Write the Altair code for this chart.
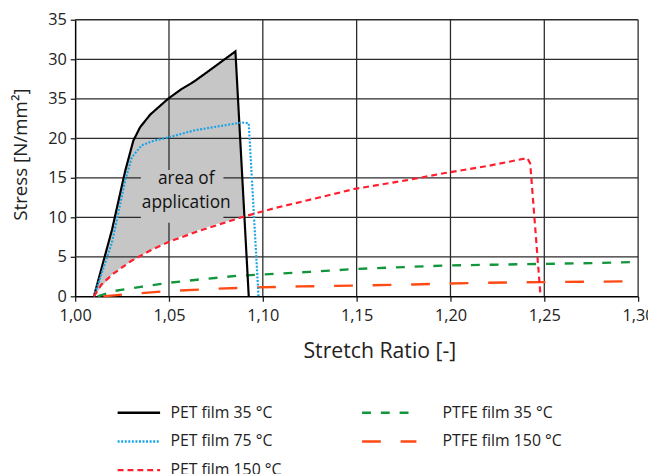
import altair as alt
import pandas as pd

# ---- data ----
pet_names = ["PET film 35 °C", "PET film 75 °C", "PET film 150 °C"]
pet_colors = ["#000000", "#1aa3e6", "#ff1e2d"]
pet_dashes = [[1, 0], [2, 1.6], [6, 4]]

ptfe_names = ["PTFE film 35 °C", "PTFE film 150 °C"]
ptfe_colors = ["#12963c", "#ff4a14"]
ptfe_dashes = [[9, 10], [19, 20]]

pet35_x = [1.010, 1.0196, 1.0267, 1.031, 1.0346, 1.040, 1.0495, 1.0565, 1.0635, 1.0745, 1.0854, 1.0925]
pet35_y = [0, 8.4, 15.9, 19.7, 21.4, 23.0, 25.0, 26.2, 27.2, 29.1, 31.0, 0]

pet75_x = [1.010, 1.0196, 1.0267, 1.0302, 1.0354, 1.042, 1.0495, 1.0635, 1.076, 1.0889, 1.0925, 1.0977]
pet75_y = [0, 6.8, 14.7, 17.6, 19.1, 19.7, 20.1, 21.0, 21.5, 22.0, 21.9, 0]

pet150_x = [1.010, 1.014, 1.020, 1.030, 1.040, 1.050, 1.065, 1.090, 1.107, 1.130, 1.149, 1.177, 1.197, 1.220, 1.241, 1.2425, 1.248]
pet150_y = [0, 1.5, 2.8, 4.5, 5.8, 6.9, 8.2, 10.1, 11.2, 12.5, 13.6, 14.7, 15.6, 16.5, 17.5, 16.8, 0]

ptfe35_x = [1.012, 1.0214, 1.035, 1.0495, 1.065, 1.0863, 1.10, 1.125, 1.149, 1.175, 1.198, 1.223, 1.248, 1.275, 1.30]
ptfe35_y = [0, 0.7, 1.2, 1.7, 2.1, 2.6, 2.76, 3.1, 3.45, 3.7, 3.9, 4.0, 4.1, 4.2, 4.35]

ptfe150_x = [1.015, 1.0267, 1.0495, 1.0758, 1.0916, 1.12, 1.153, 1.18, 1.214, 1.249, 1.275, 1.30]
ptfe150_y = [0, 0.25, 0.67, 0.96, 1.1, 1.25, 1.38, 1.5, 1.7, 1.8, 1.85, 1.9]

# "area of application" band (between PET 35 °C and PET 150 °C)
area_x = [1.010, 1.0196, 1.0267, 1.031, 1.0346, 1.040, 1.0495, 1.0565, 1.0635, 1.0745, 1.0854, 1.0902]
area_upper = [0, 8.4, 15.9, 19.7, 21.4, 23.0, 25.0, 26.2, 27.2, 29.1, 31.0, 10.1]
area_lower = [0, 2.8, 4.0, 4.5, 5.1, 5.8, 6.9, 7.6, 8.2, 9.1, 9.8, 10.1]

area_label = "area of\napplication"
label_x = [1.0592]
label_y = [14.9]
label_box_x = [1.035, 1.079]
label_box_y = [9.3, 16.0]

x_ticks = [1.00, 1.05, 1.10, 1.15, 1.20, 1.25, 1.30]
y_ticks = [0, 5, 10, 15, 20, 25, 30, 35]
y_tick_labels = ["0", "5", "10", "15", "20", "35", "30", "35"]
x_grid = [1.05, 1.10, 1.15, 1.20, 1.25, 1.30]
y_grid = [5, 10, 15, 20, 25, 30, 35]

FONT = "Open Sans"
GRAY = "#c6c6c6"

# ---- build tables ----
def long_table(items):
    rows = []
    for name, xs, ys in items:
        for i, (a, b) in enumerate(zip(xs, ys)):
            rows.append({"series": name, "x": a, "y": b, "order": i})
    return pd.DataFrame(rows)

pet_df = long_table([
    ("PET film 35 °C", pet35_x, pet35_y),
    ("PET film 75 °C", pet75_x, pet75_y),
    ("PET film 150 °C", pet150_x, pet150_y),
])
ptfe_df = long_table([
    ("PTFE film 35 °C", ptfe35_x, ptfe35_y),
    ("PTFE film 150 °C", ptfe150_x, ptfe150_y),
])
area_df = pd.DataFrame({"x": area_x, "upper": area_upper, "lower": area_lower})
vgrid_df = pd.DataFrame({"x": x_grid})
hgrid_df = pd.DataFrame({"y": y_grid})
box_df = pd.DataFrame({"x": [label_box_x[0]], "x2": [label_box_x[1]], "y": [label_box_y[0]], "y2": [label_box_y[1]]})
label_df = pd.DataFrame({"x": label_x, "y": label_y, "t": [area_label]})

xscale = alt.Scale(domain=[1.0, 1.3], nice=False, zero=False)
yscale = alt.Scale(domain=[0, 35], nice=False)

y_label_expr = "[" + ",".join("'%s'" % s for s in y_tick_labels) + "][round(datum.value/5)]"

x_axis = alt.Axis(
    values=x_ticks, grid=False, domainColor="#000", domainWidth=1.5,
    tickColor="#222", tickSize=5, tickWidth=1.3, labelPadding=7,
    labelFlush=False, labelOverlap=False,
    labelExpr="replace(format(datum.value, '.2f'), '.', ',')",
    labelFont=FONT, labelFontSize=16.5, labelColor="#222",
    title="Stretch Ratio [-]", titleFont=FONT, titleFontSize=21.5, titleFontWeight="normal",
    titleColor="#222", titleX=308, titleY=56, titleBaseline="middle", titleAlign="center",
)
y_axis = alt.Axis(
    values=y_ticks, grid=False, domainColor="#000", domainWidth=1.5,
    tickColor="#222", tickSize=5, tickWidth=1.3, labelPadding=4,
    labelFlush=False, labelOverlap=False,
    labelExpr=y_label_expr,
    labelFont=FONT, labelFontSize=16.5, labelColor="#222",
    title="Stress [N/mm²]", titleFont=FONT, titleFontSize=19, titleFontWeight="normal",
    titleColor="#222", titleX=-55, titleY=136, titleBaseline="middle", titleAlign="center", titleAngle=-90,
)

X = lambda f: alt.X(f, scale=xscale, axis=x_axis)
Y = lambda f: alt.Y(f, scale=yscale, axis=y_axis)

area = alt.Chart(area_df).mark_area(color=GRAY, opacity=1).encode(
    x=X("x:Q"), y=Y("upper:Q"), y2="lower:Q",
)
vgrid = alt.Chart(vgrid_df).mark_rule(color="#2b2b2b", strokeWidth=1.3).encode(x=X("x:Q"))
hgrid = alt.Chart(hgrid_df).mark_rule(color="#2b2b2b", strokeWidth=1.3).encode(y=Y("y:Q"))
box = alt.Chart(box_df).mark_rect(color=GRAY).encode(x=X("x:Q"), x2="x2:Q", y=Y("y:Q"), y2="y2:Q")
label = alt.Chart(label_df).mark_text(
    font=FONT, fontSize=17.5, color="#111", lineBreak="\n", lineHeight=24.5, baseline="middle", align="center"
).encode(x=X("x:Q"), y=Y("y:Q"), text="t:N")


def legend(x, y, size, offset):
    return alt.Legend(
        title=None, orient="none", legendX=x, legendY=y, direction="vertical",
        symbolType="stroke", symbolSize=size, symbolStrokeWidth=2.5,
        clipHeight=15, rowPadding=12, labelOffset=offset,
        labelFont=FONT, labelFontSize=16, labelColor="#222", padding=0,
    )


pet_lines = alt.Chart(pet_df).mark_line(strokeWidth=2.2, interpolate="linear").encode(
    x=X("x:Q"),
    y=Y("y:Q"),
    order="order:Q",
    color=alt.Color("series:N", scale=alt.Scale(domain=pet_names, range=pet_colors),
                    legend=legend(41.5, 390.5, 1849, 9)),
    strokeDash=alt.StrokeDash("series:N", scale=alt.Scale(domain=pet_names, range=pet_dashes),
                              legend=legend(41.5, 390.5, 1849, 9)),
)
ptfe_lines = alt.Chart(ptfe_df).mark_line(strokeWidth=2.4, interpolate="linear").encode(
    x=X("x:Q"),
    y=Y("y:Q"),
    order="order:Q",
    color=alt.Color("series:N", scale=alt.Scale(domain=ptfe_names, range=ptfe_colors),
                    legend=legend(289, 390.5, 3025, 25)),
    strokeDash=alt.StrokeDash("series:N", scale=alt.Scale(domain=ptfe_names, range=ptfe_dashes),
                              legend=legend(289, 390.5, 3025, 25)),
)

chart = alt.layer(area, vgrid, hgrid, box, label, ptfe_lines, pet_lines).resolve_scale(
    color="independent", strokeDash="independent"
).properties(
    width=570, height=280,
    autosize=alt.AutoSizeParams(type="none"),
    padding={"left": 68, "top": 9, "right": 10, "bottom": 177},
).configure_view(stroke=None).configure_axis(labelOverlap=False)

chart.save("out.html", embed_options={"renderer": "svg", "actions": False})
